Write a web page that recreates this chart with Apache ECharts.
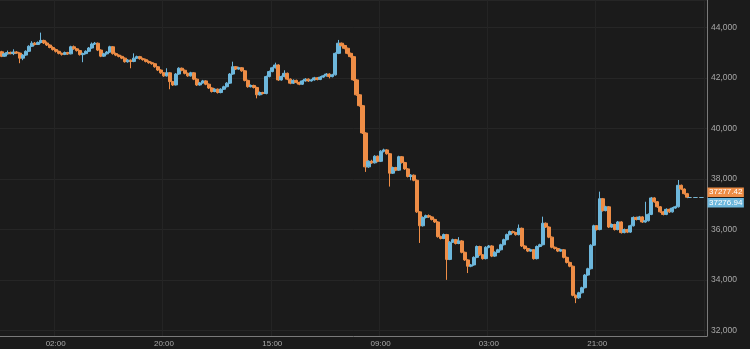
<!DOCTYPE html>
<html>
<head>
<meta charset="utf-8">
<script src="https://cdn.jsdelivr.net/npm/echarts@6/dist/echarts.min.js"></script>
<style>
html,body{margin:0;padding:0;background:#1b1b1b;}
#c{width:750px;height:349px;}
</style>
</head>
<body>
<div id="c"></div>
<script>
const tickLabels = ['02:00','20:00','15:00','09:00','03:00','21:00'];
const firstTick = 18, tickEvery = 36, categoryCount = 235;
const askPrice = 37277.42;
const bidPrice = 37276.94;

const opens = [43030,42860,42950,43000,42960,43020,42980,42780,42900,43050,43250,43370,43320,43400,43480,43380,43300,43200,43120,43050,42970,42930,43000,42950,43230,43150,43080,42920,42960,43050,43180,43340,43370,43100,42860,42950,43020,43230,42960,42900,42850,42780,42640,42700,42650,42780,42840,42760,42720,42650,42600,42560,42440,42310,42200,42080,42200,41850,41720,42150,42380,42300,42180,42080,42200,41950,41720,41800,41880,41750,41600,41460,41550,41420,41550,41650,41790,42150,42440,42350,42400,42280,41900,41650,41700,41620,41330,41420,41380,42050,42250,42400,42510,41920,42050,42180,41950,41790,41900,41820,41750,41880,41950,41880,41920,42000,41940,42030,42080,42150,42050,42120,42970,43370,43280,43170,42970,42840,41920,41330,40900,39820,38480,38700,38640,38900,38700,39100,39150,39000,38230,38450,38350,38880,38650,38400,38100,38150,37950,36700,36150,36480,36550,36500,36400,36300,35720,35650,35800,34820,35500,35600,35450,35550,35100,34800,34550,34600,34900,35330,35000,34850,35300,35350,34950,35100,35200,35400,35600,35800,35920,35880,35800,36050,35350,35250,35150,35200,34850,35330,35400,36250,36100,35700,35300,35250,35150,35200,34900,34700,34550,33400,33300,33500,33700,34200,34450,35380,36150,36000,37220,36750,36900,36100,36200,36000,36300,35880,36000,35900,36150,36480,36400,36500,36300,36350,36600,37250,37100,36900,36700,36600,36800,36700,36850,36900,37750,37600,37420];
const closes = [42860,42950,43000,42960,43020,42980,42780,42900,43050,43250,43370,43320,43400,43480,43380,43300,43200,43120,43050,42970,42930,43000,42950,43230,43150,43080,42920,42960,43050,43180,43340,43370,43100,42860,42950,43020,43230,42960,42900,42850,42780,42640,42700,42650,42780,42840,42760,42720,42650,42600,42560,42440,42310,42200,42080,42200,41850,41720,42150,42380,42300,42180,42080,42200,41950,41720,41800,41880,41750,41600,41460,41550,41420,41550,41650,41790,42150,42440,42350,42400,42280,41900,41650,41700,41620,41330,41420,41380,42050,42250,42400,42510,41920,42050,42180,41950,41790,41900,41820,41750,41880,41950,41880,41920,42000,41940,42030,42080,42150,42050,42120,42970,43370,43280,43170,42970,42840,41920,41330,40900,39820,38480,38700,38640,38900,38700,39100,39150,39000,38230,38450,38350,38880,38650,38400,38100,38150,37950,36700,36150,36480,36550,36500,36400,36300,35720,35650,35800,34820,35500,35600,35450,35550,35100,34800,34550,34600,34900,35330,35000,34850,35300,35350,34950,35100,35200,35400,35600,35800,35920,35880,35800,36050,35350,35250,35150,35200,34850,35330,35400,36250,36100,35700,35300,35250,35150,35200,34900,34700,34550,33400,33300,33500,33700,34200,34450,35380,36150,36000,37220,36750,36900,36100,36200,36000,36300,35880,36000,35900,36150,36480,36400,36500,36300,36350,36600,37250,37100,36900,36700,36600,36800,36700,36850,36900,37750,37600,37420,37277.42];
const lows = [42820,42830,42920,42930,42900,42950,42580,42700,42870,43020,43220,43280,43300,43360,43340,43260,43170,43080,43000,42930,42880,42900,42910,42930,43110,43040,42880,42620,42930,43020,43150,43300,43060,42820,42830,42920,42990,42920,42860,42810,42740,42600,42600,42380,42620,42750,42720,42680,42610,42560,42520,42400,42270,42160,42040,42050,41550,41680,41700,42120,42260,42140,42040,42050,41910,41680,41690,41770,41710,41560,41420,41430,41380,41390,41520,41620,41760,42120,42310,42320,42240,41860,41610,41620,41580,41190,41300,41340,41350,42020,42220,42370,41880,41890,42020,41910,41750,41760,41780,41710,41720,41850,41840,41850,41890,41900,41910,42000,42050,41980,42020,42090,42940,43240,43130,42930,42800,41880,41290,40860,39780,38280,38440,38600,38610,38660,38670,39050,38960,37700,38200,38310,38320,38610,38360,38060,37950,37910,36660,35470,36120,36440,36460,36360,36260,35680,35610,35620,34010,34790,35470,35410,35420,35060,34760,34280,34510,34570,34870,34960,34810,34820,35260,34910,34920,35070,35170,35370,35570,35770,35840,35760,35770,35310,35210,35110,35120,34810,34820,35300,35370,36060,35660,35260,35210,35110,35120,34860,34660,34510,33360,33090,33260,33470,33670,34170,34420,35350,35960,35970,36710,36720,36060,36070,35960,35970,35840,35850,35860,35870,36120,36360,36370,36260,36270,36320,36570,37060,36860,36660,36560,36570,36660,36670,36820,36870,37560,37380,37240];
const highs = [43070,42990,43080,43040,43130,43060,43010,42940,43090,43290,43450,43420,43440,43790,43510,43440,43330,43250,43160,43080,43000,43040,43030,43270,43280,43180,43110,43000,43090,43220,43400,43420,43400,43130,42990,43060,43270,43260,43000,42930,42880,42810,42740,42730,42970,42880,42870,42800,42760,42690,42640,42590,42470,42340,42230,42380,42230,41880,42190,42420,42410,42330,42210,42240,42230,41980,41840,41920,41910,41780,41630,41590,41580,41590,41690,41830,42190,42640,42470,42440,42430,42310,41930,41740,41730,41650,41460,41450,42090,42290,42440,42600,42540,42090,42300,42210,41980,41940,41930,41850,41920,41990,41980,41960,42040,42030,42070,42120,42190,42180,42160,43010,43500,43400,43310,43200,43000,42870,41950,41360,40930,39850,38740,38760,38940,38930,39140,39200,39180,39030,38490,38480,38920,38910,38680,38430,38190,38180,37980,36730,36520,36590,36600,36530,36430,36330,35760,35840,35830,35540,35640,35630,35700,35580,35130,34830,34640,34940,35370,35360,35030,35340,35390,35380,35140,35240,35440,35640,35840,35960,35960,35910,36200,36080,35380,35280,35240,35230,35370,35440,36510,36280,36130,35730,35330,35280,35240,35230,34930,34730,34580,33430,33540,33740,34240,34490,35420,36190,36180,37500,37250,36940,36930,36240,36230,36340,36330,36040,36030,36190,36520,36510,36540,36530,37100,36640,37290,37280,37130,36930,36730,36840,36830,36890,36940,37960,37780,37630,37450];

const up = '#6db7dc', down = '#ee8d46';
const font = 'Liberation Sans, Arial, sans-serif';
const categories = [];
for (let i = 0; i < categoryCount; i++) categories.push(String(i));
const candleData = opens.map((o, i) => [o, closes[i], lows[i], highs[i]]);
const lastIdx = closes.length - 1;
const isTick = (i) => i >= firstTick && (i - firstTick) % tickEvery === 0;

const chart = echarts.init(document.getElementById('c'), null, {renderer: 'canvas'});
const tagLabel = (bg, dy) => ({
  show: true, position: 'end', distance: 2, offset: [0, dy],
  formatter: (p) => p.value.toFixed(2),
  backgroundColor: bg, color: '#ffffff', fontSize: 8, fontFamily: font,
  lineHeight: 9.5, padding: [0, 1.5, 0, 1.5]
});
chart.setOption({
  backgroundColor: '#1b1b1b',
  animation: false,
  grid: {left: -0.5, right: 43, top: 0, bottom: 13, containLabel: false},
  xAxis: {
    type: 'category', data: categories, boundaryGap: true,
    axisLine: {show: true, lineStyle: {color: '#7a7a7a', width: 1}},
    axisTick: {show: false},
    axisLabel: {
      interval: (i) => isTick(i), margin: 4,
      formatter: (v, i) => tickLabels[(i - firstTick) / tickEvery] || '',
      color: '#a8a8a8', fontSize: 8, fontFamily: font
    },
    splitLine: {show: true, interval: (i) => isTick(i), lineStyle: {color: '#242424', width: 1}}
  },
  yAxis: {
    type: 'value', position: 'right', scale: true,
    min: 31790, max: 45080, splitNumber: 6,
    axisLine: {show: true, lineStyle: {color: '#7a7a7a', width: 1}},
    axisTick: {show: false},
    axisLabel: {
      showMinLabel: false, showMaxLabel: false, margin: 4,
      color: '#a8a8a8', fontSize: 8.5, fontFamily: font,
      formatter: (v) => v.toLocaleString('en-US')
    },
    splitLine: {show: true, lineStyle: {color: '#262626', width: 1}}
  },
  series: [{
    type: 'candlestick',
    data: candleData,
    barWidth: 3.6,
    itemStyle: {color: up, color0: down, borderColor: up, borderColor0: down, borderWidth: 1},
    markLine: {
      silent: true, symbol: ['none', 'none'], animation: false,
      data: [
        [{coord: [lastIdx, askPrice], value: askPrice, lineStyle: {color: down, type: 'dashed', width: 1}, label: tagLabel(down, -5)},
         {coord: [categoryCount - 1, askPrice]}],
        [{coord: [lastIdx, bidPrice], value: bidPrice, lineStyle: {color: up, type: 'dashed', width: 1}, label: tagLabel(up, 5.5)},
         {coord: [categoryCount - 1, bidPrice]}]
      ]
    }
  }]
});
</script>
</body>
</html>
